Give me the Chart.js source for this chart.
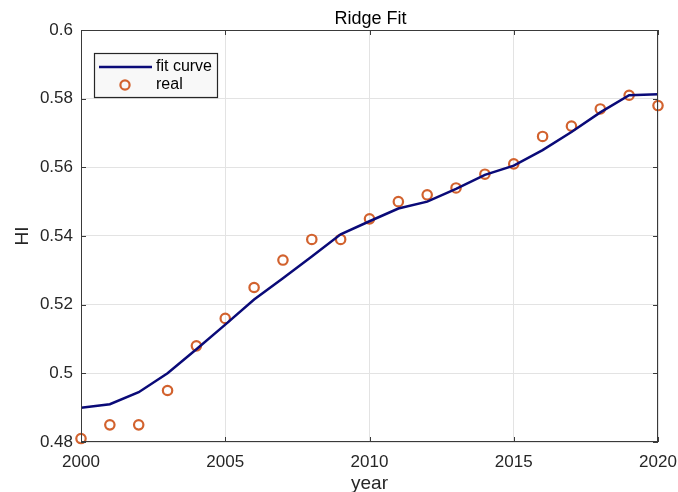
<!DOCTYPE html>
<html>
<head>
<meta charset="utf-8">
<script src="https://cdn.jsdelivr.net/npm/chart.js@4.4.1/dist/chart.umd.min.js"></script>
<style>
  html, body { margin: 0; padding: 0; background: #fff; }
  #wrap { position: relative; width: 678px; height: 492px; }
</style>
</head>
<body>
<div id="wrap"><canvas id="myChart"></canvas></div>
<script>
const years = [2000, 2001, 2002, 2003, 2004, 2005, 2006, 2007, 2008, 2009, 2010,
               2011, 2012, 2013, 2014, 2015, 2016, 2017, 2018, 2019, 2020];
const fitCurve = [0.490, 0.491, 0.4945, 0.500, 0.507, 0.5142, 0.5215, 0.5277, 0.534, 0.5405, 0.5443,
                  0.548, 0.550, 0.5537, 0.5578, 0.5605, 0.565, 0.5703, 0.576, 0.581, 0.5813];
const realHI = [0.481, 0.485, 0.485, 0.495, 0.508, 0.516, 0.525, 0.533, 0.539, 0.539, 0.545,
                0.550, 0.552, 0.554, 0.558, 0.561, 0.569, 0.572, 0.577, 0.581, 0.578];
const xTicks = [2000, 2005, 2010, 2015, 2020];
const yTicks = [0.48, 0.5, 0.52, 0.54, 0.56, 0.58, 0.6];

const FONT = '"Liberation Sans", Arial, Helvetica, sans-serif';
const TEXT = '#262626';
const AXIS = '#3a3a3a';

// MATLAB-style box with inward ticks on all four sides, plus the title over the axes
const boxPlugin = {
  id: 'matlabBox',
  afterDatasetsDraw(chart) {
    const ctx = chart.ctx;
    const a = chart.chartArea;
    const xs = chart.scales.x, ys = chart.scales.y;
    ctx.save();
    ctx.strokeStyle = AXIS;
    ctx.lineWidth = 1;
    ctx.strokeRect(a.left + 0.5, a.top + 0.5, a.right - a.left - 1, a.bottom - a.top - 1);
    ctx.beginPath();
    xTicks.forEach(v => {
      const px = Math.round(xs.getPixelForValue(v)) + 0.5;
      ctx.moveTo(px, a.bottom); ctx.lineTo(px, a.bottom - 5);
      ctx.moveTo(px, a.top); ctx.lineTo(px, a.top + 5);
    });
    yTicks.forEach(v => {
      const py = Math.round(ys.getPixelForValue(v)) + 0.5;
      ctx.moveTo(a.left, py); ctx.lineTo(a.left + 5, py);
      ctx.moveTo(a.right, py); ctx.lineTo(a.right - 5, py);
    });
    ctx.stroke();

    ctx.fillStyle = '#000';
    ctx.font = '18px ' + FONT;
    ctx.textAlign = 'center';
    ctx.textBaseline = 'alphabetic';
    ctx.fillText('Ridge Fit', (a.left + a.right) / 2 + 1, a.top - 6.5);
    ctx.restore();
  }
};

// legend box in the upper-left of the plot
const legendPlugin = {
  id: 'boxLegend',
  afterDatasetsDraw(chart) {
    const ctx = chart.ctx;
    const a = chart.chartArea;
    const x0 = a.left + 13, y0 = a.top + 23, w = 123, h = 44;
    ctx.save();
    ctx.fillStyle = '#f8f8f8';
    ctx.fillRect(x0, y0, w, h);
    ctx.strokeStyle = '#262626';
    ctx.lineWidth = 1.2;
    ctx.strokeRect(x0 + 0.5, y0 + 0.5, w, h);
    const ds = chart.data.datasets;
    ctx.font = '16px ' + FONT;
    ctx.fillStyle = '#000';
    ctx.textBaseline = 'middle';
    // line entry
    ctx.strokeStyle = ds[0].borderColor;
    ctx.lineWidth = 2.5;
    ctx.beginPath();
    ctx.moveTo(x0 + 5, y0 + 14); ctx.lineTo(x0 + 58, y0 + 14);
    ctx.stroke();
    ctx.fillText(ds[0].label, x0 + 62, y0 + 14);
    // marker entry
    ctx.strokeStyle = ds[1].borderColor;
    ctx.lineWidth = 2.2;
    ctx.beginPath();
    ctx.arc(x0 + 31, y0 + 32, 4.6, 0, Math.PI * 2);
    ctx.stroke();
    ctx.fillText(ds[1].label, x0 + 62, y0 + 32);
    ctx.restore();
  }
};

const ctx = document.getElementById('myChart').getContext('2d');
new Chart(ctx, {
  type: 'line',
  data: {
    datasets: [{
      label: 'fit curve',
      data: years.map((y, i) => ({ x: y, y: fitCurve[i] })),
      borderColor: '#0a0a78',
      borderWidth: 2.5,
      pointRadius: 0,
      tension: 0,
      fill: false
    }, {
      label: 'real',
      data: years.map((y, i) => ({ x: y, y: realHI[i] })),
      showLine: false,
      clip: false,
      borderColor: '#d2622e',
      backgroundColor: 'rgba(0,0,0,0)',
      pointRadius: 4.7,
      pointBorderWidth: 2.2,
      pointStyle: 'circle'
    }]
  },
  options: {
    responsive: true,
    maintainAspectRatio: false,
    animation: false,
    layout: { padding: { left: 0, right: 20, top: 30, bottom: 0 } },
    plugins: {
      legend: { display: false },
      tooltip: { enabled: false },
      title: { display: false }
    },
    scales: {
      x: {
        type: 'linear',
        min: 2000,
        max: 2020,
        afterBuildTicks(scale) { scale.ticks = xTicks.map(v => ({ value: v })); },
        afterFit(scale) {
          scale.height = 50;
          scale.paddingLeft = 0;
          scale.paddingRight = 0;
        },
        ticks: {
          color: TEXT,
          font: { family: FONT, size: 17 },
          padding: 10,
          maxRotation: 0,
          callback: v => String(v)
        },
        grid: { color: '#e3e3e3', drawTicks: false },
        border: { display: false },
        title: {
          display: true,
          text: 'year',
          color: TEXT,
          font: { family: FONT, size: 19 },
          padding: { top: 0, bottom: -3 }
        }
      },
      y: {
        min: 0.48,
        max: 0.6,
        afterBuildTicks(scale) { scale.ticks = yTicks.map(v => ({ value: v })); },
        afterFit(scale) { scale.width = 81; },
        ticks: {
          color: TEXT,
          font: { family: FONT, size: 17 },
          padding: 8,
          callback: v => String(Number(v.toFixed(2)))
        },
        grid: { color: '#e3e3e3', drawTicks: false },
        border: { display: false },
        title: {
          display: true,
          text: 'HI',
          color: TEXT,
          font: { family: FONT, size: 19 },
          padding: { top: 11, bottom: 0 }
        }
      }
    }
  },
  plugins: [boxPlugin, legendPlugin]
});
</script>
</body>
</html>
